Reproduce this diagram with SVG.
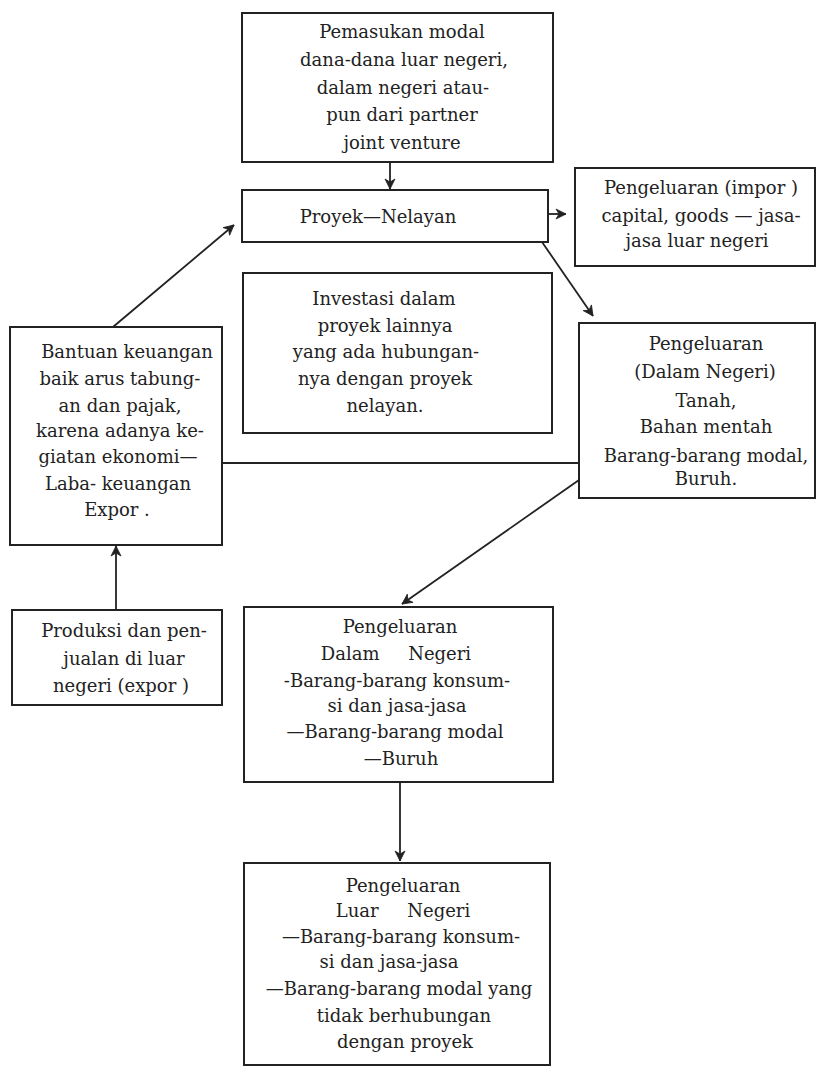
<svg xmlns="http://www.w3.org/2000/svg" width="817" height="1068" viewBox="0 0 817 1068">
<style>
.box{fill:none;stroke:#222;stroke-width:2}
.t{font-family:"DejaVu Serif","Liberation Serif",serif;font-size:18px;fill:#222;text-anchor:middle}
.c{fill:none;stroke:#222;stroke-width:1.8}
</style>
<defs>
<marker id="ah" viewBox="0 0 12 12" refX="11" refY="6" markerWidth="12" markerHeight="12" markerUnits="userSpaceOnUse" orient="auto">
<path d="M1,1 L11,6 L1,11 L4,6 Z" fill="#222" stroke="#222" stroke-width="0.8" stroke-linejoin="round"/>
</marker>
</defs>
<rect width="817" height="1068" fill="#fff"/>
<g id="connectors">
<line class="c" x1="390" y1="163" x2="390" y2="189" marker-end="url(#ah)"/>
<line class="c" x1="548" y1="214" x2="566" y2="214" marker-end="url(#ah)"/>
<line class="c" x1="542" y1="242" x2="593" y2="316" marker-end="url(#ah)"/>
<line class="c" x1="113" y1="327" x2="234" y2="225" marker-end="url(#ah)"/>
<line class="c" x1="116" y1="610" x2="116" y2="546" marker-end="url(#ah)"/>
<line class="c" x1="222" y1="463" x2="579" y2="463"/>
<line class="c" x1="579" y1="480" x2="402" y2="604" marker-end="url(#ah)"/>
<line class="c" x1="400" y1="782" x2="400" y2="861" marker-end="url(#ah)"/>
</g>
<g id="n1">
<rect class="box" x="242" y="13" width="311" height="149"/>
<text class="t" x="402" y="38">Pemasukan modal</text>
<text class="t" x="404" y="66">dana-dana luar negeri,</text>
<text class="t" x="403" y="94">dalam negeri atau-</text>
<text class="t" x="402" y="121">pun dari partner</text>
<text class="t" x="402" y="149">joint venture</text>
</g>
<g id="n2">
<rect class="box" x="242" y="190" width="306" height="52"/>
<text class="t" x="378" y="223">Proyek—Nelayan</text>
</g>
<g id="n3">
<rect class="box" x="575" y="168" width="240" height="98"/>
<text class="t" x="701" y="194">Pengeluaran (impor )</text>
<text class="t" x="701" y="222">capital, goods — jasa-</text>
<text class="t" x="697" y="247">jasa luar negeri</text>
</g>
<g id="n4">
<rect class="box" x="579" y="323" width="236" height="175"/>
<text class="t" x="706" y="350">Pengeluaran</text>
<text class="t" x="705" y="378">(Dalam Negeri)</text>
<text class="t" x="706" y="407">Tanah,</text>
<text class="t" x="706" y="433">Bahan mentah</text>
<text class="t" x="706" y="462">Barang-barang modal,</text>
<text class="t" x="706" y="485">Buruh.</text>
</g>
<g id="n5">
<rect class="box" x="243" y="273" width="309" height="160"/>
<text class="t" x="384" y="305">Investasi dalam</text>
<text class="t" x="385" y="332">proyek lainnya</text>
<text class="t" x="386" y="358">yang ada hubungan-</text>
<text class="t" x="385" y="385">nya dengan proyek</text>
<text class="t" x="385" y="412">nelayan.</text>
</g>
<g id="n6">
<rect class="box" x="10" y="327" width="212" height="218"/>
<text class="t" x="127" y="358">Bantuan keuangan</text>
<text class="t" x="120" y="385">baik arus tabung-</text>
<text class="t" x="120" y="412">an dan pajak,</text>
<text class="t" x="120" y="437">karena adanya ke-</text>
<text class="t" x="118" y="463">giatan ekonomi—</text>
<text class="t" x="118" y="490">Laba- keuangan</text>
<text class="t" x="117" y="516">Expor .</text>
</g>
<g id="n7">
<rect class="box" x="12" y="610" width="210" height="95"/>
<text class="t" x="124" y="637">Produksi dan pen-</text>
<text class="t" x="124" y="665">jualan di luar</text>
<text class="t" x="121" y="692">negeri (expor )</text>
</g>
<g id="n8">
<rect class="box" x="244" y="607" width="309" height="175"/>
<text class="t" x="400" y="633">Pengeluaran</text>
<text class="t" x="396" y="660" xml:space="preserve">Dalam     Negeri</text>
<text class="t" x="397" y="687">-Barang-barang konsum-</text>
<text class="t" x="397" y="712">si dan jasa-jasa</text>
<text class="t" x="395" y="738">—Barang-barang modal</text>
<text class="t" x="401" y="765">—Buruh</text>
</g>
<g id="n9">
<rect class="box" x="244" y="863" width="306" height="202"/>
<text class="t" x="403" y="892">Pengeluaran</text>
<text class="t" x="403" y="917" xml:space="preserve">Luar     Negeri</text>
<text class="t" x="401" y="943">—Barang-barang konsum-</text>
<text class="t" x="389" y="968">si dan jasa-jasa</text>
<text class="t" x="399" y="995">—Barang-barang modal yang</text>
<text class="t" x="404" y="1022">tidak berhubungan</text>
<text class="t" x="405" y="1048">dengan proyek</text>
</g>
</svg>
